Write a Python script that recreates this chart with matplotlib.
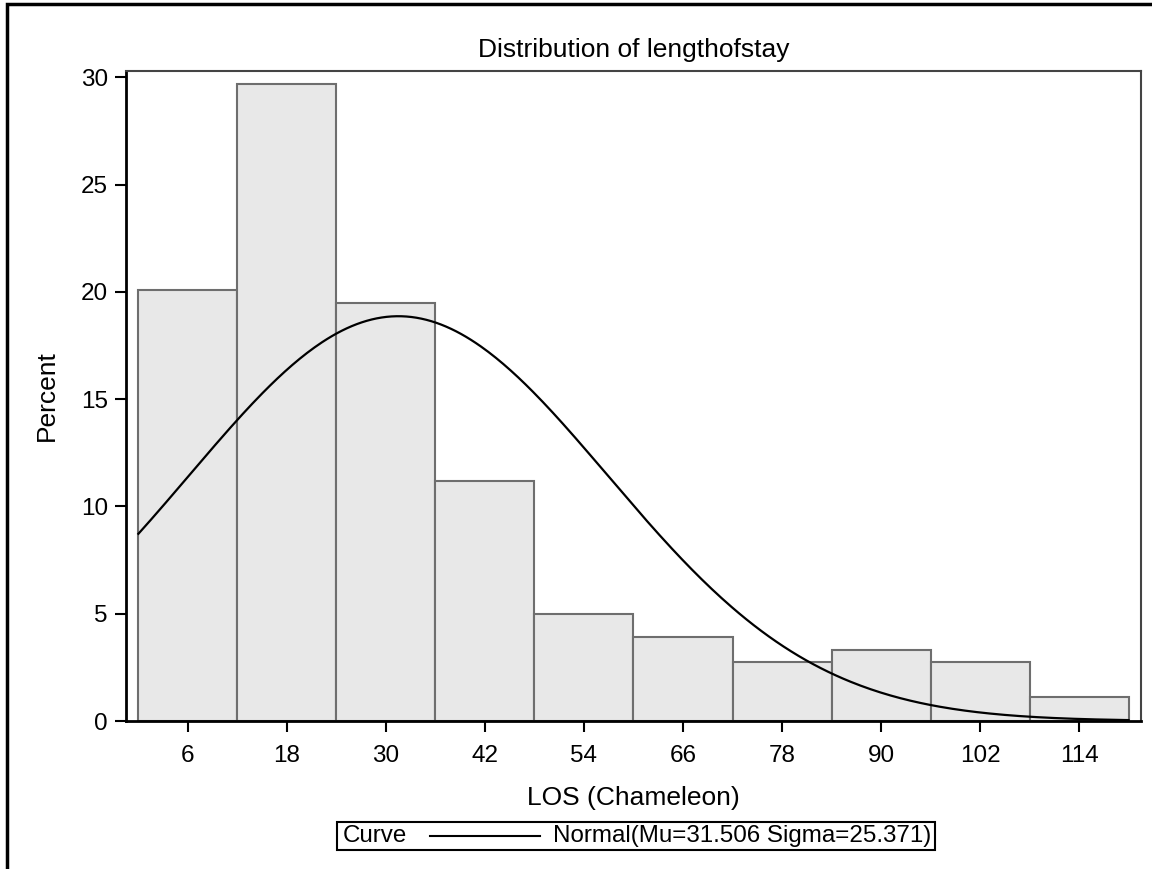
import numpy as np
import matplotlib.pyplot as plt
from matplotlib.patches import Rectangle
from matplotlib.lines import Line2D

plt.rcParams['font.family'] = ['Liberation Sans', 'DejaVu Sans']

# histogram of length of stay, 12-day bins
bin_mids = [6, 18, 30, 42, 54, 66, 78, 90, 102, 114]
percent = [20.1, 29.7, 19.5, 11.2, 5.0, 3.9, 2.75, 3.3, 2.75, 1.1]
bin_width = 12

# fitted normal
mu = 31.506
sigma = 25.371

fig = plt.figure(figsize=(11.52, 8.69), dpi=100)
ax = fig.add_axes([0.1094, 0.1703, 0.881, 0.748])

ax.bar(bin_mids, percent, width=bin_width, color='#e8e8e8',
       edgecolor='#6e6e6e', linewidth=1.5, zorder=2)

xs = np.linspace(0, 120, 400)
pdf = np.exp(-0.5 * ((xs - mu) / sigma) ** 2) / (sigma * np.sqrt(2 * np.pi))
ax.plot(xs, 100 * bin_width * pdf, color='black', linewidth=1.6, zorder=3)

ax.set_xlim(-1.5, 121.5)
ax.set_ylim(0, 30.3)
ax.set_xticks(bin_mids)
ax.set_yticks([0, 5, 10, 15, 20, 25, 30])
ax.tick_params(labelsize=17.5, length=8, width=1.5, color='black')
ax.tick_params(axis='x', pad=9)
ax.tick_params(axis='y', pad=5)

for side in ['left', 'bottom']:
    ax.spines[side].set_linewidth(2)
    ax.spines[side].set_color('black')
for side in ['top', 'right']:
    ax.spines[side].set_linewidth(1.5)
    ax.spines[side].set_color('#444444')

ax.set_title('Distribution of lengthofstay', fontsize=19, pad=10)
ax.set_xlabel('LOS (Chameleon)', fontsize=19, labelpad=14)
ax.set_ylabel('Percent', fontsize=19, labelpad=16)

# outer frame (left and top edges show)
fig.patches.append(Rectangle((7 / 1152, -0.1), 1.2, 1.1 - 4 / 869,
                             transform=fig.transFigure, fill=False,
                             edgecolor='black', linewidth=2.5))

# legend box at the bottom
W, H = 1152, 869
fig.patches.append(Rectangle((337 / W, 1 - 850 / H), (935 - 337) / W, 28 / H,
                             transform=fig.transFigure, fill=False,
                             edgecolor='black', linewidth=1.5))
fig.text(343 / W, 1 - 836 / H, 'Curve', fontsize=17.4, va='center', ha='left')
fig.lines.append(Line2D([430 / W, 540 / W], [1 - 836 / H, 1 - 836 / H],
                        transform=fig.transFigure, color='black', linewidth=1.5))
fig.text(553 / W, 1 - 836 / H,
         'Normal(Mu={:.3f} Sigma={:.3f})'.format(mu, sigma),
         fontsize=17.4, va='center', ha='left')

fig.savefig('out.png', dpi=100)
